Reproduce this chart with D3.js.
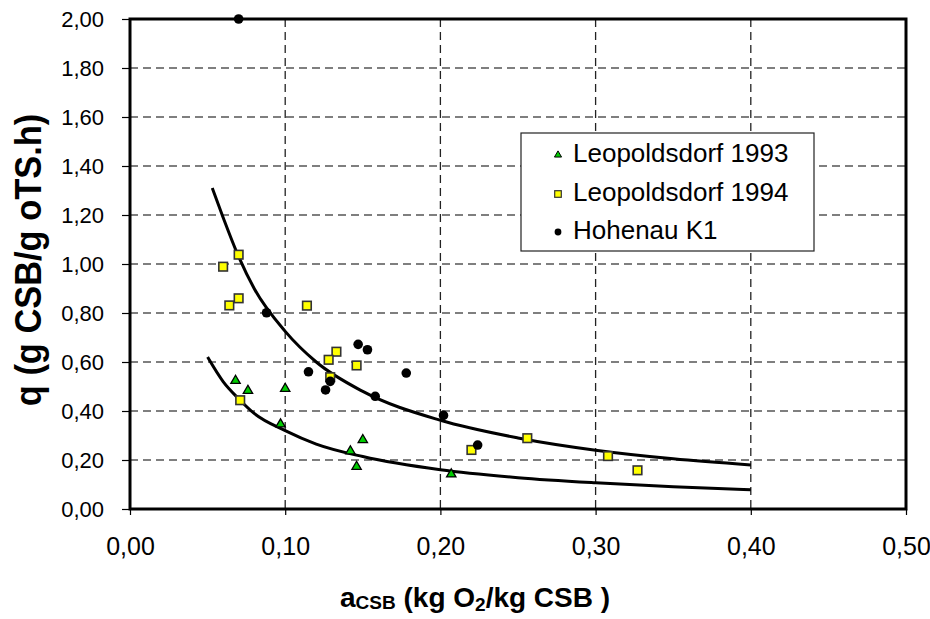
<!DOCTYPE html>
<html>
<head>
<meta charset="utf-8">
<script src="https://cdn.jsdelivr.net/npm/d3@7"></script>
<style>
 body { margin: 0; background: #fff; }
 svg { display: block; font-family: "Liberation Sans", Arial, sans-serif; }
</style>
</head>
<body>
<svg id="chart" width="930" height="619"></svg>
<script>
// values
const xTicks = [0, 0.1, 0.2, 0.3, 0.4, 0.5];
const yTicks = [0, 0.2, 0.4, 0.6, 0.8, 1.0, 1.2, 1.4, 1.6, 1.8, 2.0];

const leo93X = [0.068, 0.076, 0.100, 0.097, 0.150, 0.142, 0.146, 0.207];
const leo93Y = [0.524, 0.483, 0.491, 0.346, 0.282, 0.236, 0.173, 0.142];

const leo94X = [0.070, 0.060, 0.064, 0.070, 0.114, 0.133, 0.128, 0.146, 0.129, 0.071, 0.220, 0.256, 0.308, 0.327];
const leo94Y = [1.038, 0.989, 0.831, 0.860, 0.830, 0.642, 0.609, 0.586, 0.538, 0.444, 0.241, 0.289, 0.216, 0.158];

const hohX = [0.070, 0.088, 0.147, 0.153, 0.115, 0.178, 0.129, 0.126, 0.158, 0.202, 0.224];
const hohY = [2.000, 0.801, 0.672, 0.650, 0.560, 0.555, 0.521, 0.486, 0.460, 0.382, 0.261];

// trend curves, sampled along the drawn lines
const upperX = [0.053, 0.060, 0.070, 0.080, 0.100, 0.120, 0.150, 0.200, 0.250, 0.300, 0.350, 0.400];
const upperY = [1.310, 1.190, 1.030, 0.900, 0.725, 0.600, 0.480, 0.362, 0.290, 0.240, 0.205, 0.180];
const lowerX = [0.050, 0.060, 0.070, 0.080, 0.100, 0.120, 0.150, 0.200, 0.250, 0.300, 0.350, 0.400];
const lowerY = [0.620, 0.520, 0.450, 0.390, 0.320, 0.265, 0.214, 0.160, 0.128, 0.107, 0.091, 0.079];

const seriesNames = ["Leopoldsdorf 1993", "Leopoldsdorf 1994", "Hohenau K1"];

const fmt = v => d3.format(".2f")(v).replace(".", ",");

const svg = d3.select("#chart");
const plotL = 130, plotR = 906, plotT = 19, plotB = 509;

const x = d3.scaleLinear().domain([0, 0.5]).range([plotL, plotR]);
const y = d3.scaleLinear().domain([0, 2]).range([plotB, plotT]);

// grid
svg.append("g").selectAll("line").data(yTicks.slice(1, -1)).join("line")
  .attr("x1", plotL).attr("x2", plotR)
  .attr("y1", d => y(d)).attr("y2", d => y(d))
  .attr("stroke", "#555").attr("stroke-width", 1.3).attr("stroke-dasharray", "8,5");
svg.append("g").selectAll("line").data(xTicks.slice(1, -1)).join("line")
  .attr("y1", plotT).attr("y2", plotB)
  .attr("x1", d => x(d)).attr("x2", d => x(d))
  .attr("stroke", "#222").attr("stroke-width", 1.3).attr("stroke-dasharray", "8,5");

// axes
const yAxis = svg.append("g").attr("transform", `translate(${plotL},0)`)
  .call(d3.axisLeft(y).tickValues(yTicks).tickFormat(fmt).tickSize(8).tickPadding(18));
const xAxis = svg.append("g").attr("transform", `translate(0,${plotB})`)
  .call(d3.axisBottom(x).tickValues(xTicks).tickFormat(fmt).tickSize(6).tickPadding(22));
[yAxis, xAxis].forEach(a => {
  a.select(".domain").remove();
  a.selectAll("text").attr("fill", "#000")
    .attr("font-family", "'Liberation Sans', Arial, sans-serif");
  a.selectAll("line").attr("stroke", "#000").attr("stroke-width", 1.2);
});
yAxis.selectAll("text").attr("font-size", 22);
xAxis.selectAll("text").attr("font-size", 25);

// frame
svg.append("rect").attr("x", plotL).attr("y", plotT)
  .attr("width", plotR - plotL).attr("height", plotB - plotT)
  .attr("fill", "none").attr("stroke", "#000").attr("stroke-width", 3);

// curves
const line = d3.line().x(d => x(d[0])).y(d => y(d[1])).curve(d3.curveMonotoneX);
[[upperX, upperY], [lowerX, lowerY]].forEach(([xs, ys]) => {
  svg.append("path").datum(xs.map((v, i) => [v, ys[i]]))
    .attr("d", line).attr("fill", "none")
    .attr("stroke", "#000").attr("stroke-width", 3);
});

// markers
const tri = d3.symbol().type(d3.symbolTriangle).size(38);
svg.append("g").selectAll("path").data(leo93X.map((v, i) => [v, leo93Y[i]])).join("path")
  .attr("d", tri).attr("transform", d => `translate(${x(d[0])},${y(d[1])})`)
  .attr("fill", "#00cc00").attr("stroke", "#000").attr("stroke-width", 1.3);

svg.append("g").selectAll("rect").data(leo94X.map((v, i) => [v, leo94Y[i]])).join("rect")
  .attr("x", d => x(d[0]) - 4.3).attr("y", d => y(d[1]) - 4.3)
  .attr("width", 8.6).attr("height", 8.6)
  .attr("fill", "#ffff00").attr("stroke", "#333").attr("stroke-width", 1.6);

svg.append("g").selectAll("circle").data(hohX.map((v, i) => [v, hohY[i]])).join("circle")
  .attr("cx", d => x(d[0])).attr("cy", d => y(d[1])).attr("r", 4.8)
  .attr("fill", "#000");

// legend
const lg = svg.append("g");
lg.append("rect").attr("x", 521).attr("y", 133).attr("width", 293).attr("height", 118)
  .attr("fill", "#fff").attr("stroke", "#222").attr("stroke-width", 1.2);
const rowY = [153, 192, 230];
seriesNames.forEach((name, i) => {
  const cy = rowY[i], cx = 558;
  if (i === 0) lg.append("path").attr("d", d3.symbol().type(d3.symbolTriangle).size(22))
    .attr("transform", `translate(${cx},${cy + 2})`).attr("fill", "#00cc00").attr("stroke", "#000").attr("stroke-width", 1);
  if (i === 1) lg.append("rect").attr("x", cx - 3.3).attr("y", cy - 1.3).attr("width", 6.6).attr("height", 6.6)
    .attr("fill", "#ffff00").attr("stroke", "#333").attr("stroke-width", 1.2);
  if (i === 2) lg.append("circle").attr("cx", cx).attr("cy", cy + 2).attr("r", 3.4).attr("fill", "#000");
  lg.append("text").attr("x", 573).attr("y", cy + 9)
    .attr("font-size", 26).text(name);
});

// axis titles
svg.append("text")
  .attr("transform", "translate(41,260) rotate(-90) scale(0.93,1)")
  .attr("text-anchor", "middle").attr("font-size", 37).attr("font-weight", "bold")
  .text("q (g CSB/g oTS.h)");

const xt = svg.append("text").attr("x", 340).attr("y", 607)
  .attr("font-size", 28).attr("font-weight", "bold");
xt.append("tspan").text("a");
xt.append("tspan").attr("font-size", 19).attr("dy", 2).text("CSB");
xt.append("tspan").attr("dy", -2).text(" (kg O");
xt.append("tspan").attr("font-size", 19).attr("dy", 4).text("2");
xt.append("tspan").attr("dy", -4).text("/kg CSB )");
</script>
</body>
</html>
